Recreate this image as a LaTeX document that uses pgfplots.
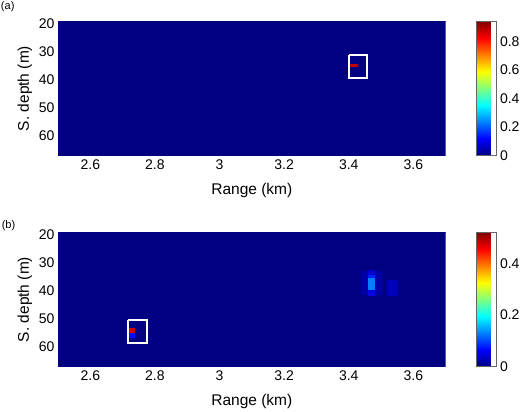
\documentclass[border=0pt]{standalone}
\usepackage{fontspec}
\setmainfont{Liberation Sans}
\usepackage{pgfplots}
\pgfplotsset{compat=1.18}
\usepgfplotslibrary{patchplots}

% cells: four corners each, c = value
\pgfplotstableread{
x y c
2.5 19 0
3.7 19 0
3.7 67 0
2.5 67 0
3.398 34.2 0.88
3.426 34.2 0.88
3.426 35.0 0.88
3.398 35.0 0.88
}\cellsA

\pgfplotstableread{
x y c
2.5 19 0
3.7 19 0
3.7 67 0
2.5 67 0
3.439 33 0.02
3.459 33 0.02
3.459 41 0.02
3.439 41 0.02
3.479 33 0.02
3.499 33 0.02
3.499 41 0.02
3.479 41 0.02
3.459 32.5 0.04
3.479 32.5 0.04
3.479 34.3 0.04
3.459 34.3 0.04
3.459 34.3 0.08
3.479 34.3 0.08
3.479 35.4 0.08
3.459 35.4 0.08
3.459 35.4 0.13
3.479 35.4 0.13
3.479 39.6 0.13
3.459 39.6 0.13
3.459 39.6 0.05
3.479 39.6 0.05
3.479 41.4 0.05
3.459 41.4 0.05
3.518 36.1 0.03
3.549 36.1 0.03
3.549 41.4 0.03
3.518 41.4 0.03
2.718 53.3 0.48
2.736 53.3 0.48
2.736 55.1 0.48
2.718 55.1 0.48
2.718 55.1 0.07
2.736 55.1 0.07
2.736 56.4 0.07
2.718 56.4 0.07
}\cellsB

\pgfplotsset{
  panel/.style={
    scale only axis, width=387.7pt, height=134.4pt,
    xmin=2.5, xmax=3.7, ymin=19, ymax=67, y dir=reverse,
    xtick={2.6,2.8,3,3.2,3.4,3.6},
    ytick={20,30,40,50,60},
    major tick length=0pt,
    axis line style={draw=none},
    tick label style={font=\fontsize{14}{16}\selectfont},
    label style={font=\fontsize{15.5}{18}\selectfont},
    xlabel style={yshift=-7pt},
    /pgf/number format/assume math mode=true,
    xlabel={Range (km)}, ylabel={S. depth (m)},
    colormap/jet, colorbar, point meta min=0,
  },
  cbar/.style={
    colorbar style={
      at={(parent axis.north east)}, anchor=north west, xshift=22.3pt,
      width=20pt, scale only axis,
      major tick length=0pt,
      axis line style={draw=black!60, line width=0.4pt},
      tick label style={font=\fontsize{14}{16}\selectfont},
      /pgf/number format/assume math mode=true,
      ytick={#1},
    },
  },
  cells/.style={patch, patch type=rectangle, shader=flat corner, point meta=explicit},
}

\begin{document}
\begin{tikzpicture}
\useasboundingbox (0,0) rectangle (520pt,-412pt);

\begin{axis}[panel, point meta max=0.94, cbar={0,0.2,0.4,0.6,0.8},
  at={(58pt,-21.3pt)}, anchor=north west]
\addplot[cells] table[x=x, y=y, meta=c] {\cellsA};
\addplot[draw=white, line width=2pt, mark=none, sharp plot, line join=miter]
  coordinates {(3.400,31.1) (3.455,31.1) (3.455,39.4) (3.400,39.4) (3.400,31.1)};
\end{axis}

\begin{axis}[panel, point meta max=0.52, cbar={0,0.2,0.4},
  at={(58pt,-232.3pt)}, anchor=north west]
\addplot[cells] table[x=x, y=y, meta=c] {\cellsB};
\addplot[draw=white, line width=2pt, mark=none, sharp plot, line join=miter]
  coordinates {(2.718,50.3) (2.775,50.3) (2.775,58.5) (2.718,58.5) (2.718,50.3)};
\end{axis}

\node[font=\fontsize{11}{13}\selectfont] at (7.7pt,-6.7pt) {(a)};
\node[font=\fontsize{11}{13}\selectfont] at (8.5pt,-226pt) {(b)};
\end{tikzpicture}
\end{document}
